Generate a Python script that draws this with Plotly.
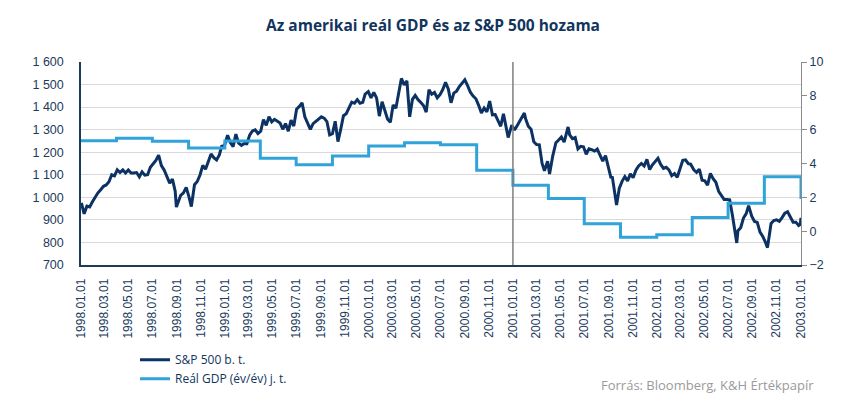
import plotly.graph_objects as go

# ---------------- DATA ----------------
sp_dates = [
    # 1998
    "1998-01-02","1998-01-09","1998-01-16","1998-01-23","1998-01-30","1998-02-06","1998-02-13","1998-02-20",
    "1998-02-27","1998-03-06","1998-03-13","1998-03-20","1998-03-27","1998-04-03","1998-04-10","1998-04-17",
    "1998-04-24","1998-05-01","1998-05-08","1998-05-15","1998-05-22","1998-05-29","1998-06-05","1998-06-12",
    "1998-06-19","1998-06-26","1998-07-03","1998-07-10","1998-07-17","1998-07-24","1998-07-31","1998-08-07",
    "1998-08-14","1998-08-21","1998-08-28","1998-08-31","1998-09-04","1998-09-11","1998-09-18","1998-09-25",
    "1998-10-02","1998-10-08","1998-10-16","1998-10-23","1998-10-30","1998-11-06","1998-11-13","1998-11-20",
    "1998-11-27","1998-12-04","1998-12-11","1998-12-18","1998-12-24","1998-12-31",
    # 1999
    "1999-01-08","1999-01-15","1999-01-22","1999-01-29","1999-02-05","1999-02-12","1999-02-19","1999-02-26",
    "1999-03-05","1999-03-12","1999-03-19","1999-03-26","1999-04-02","1999-04-09","1999-04-16","1999-04-23",
    "1999-04-30","1999-05-07","1999-05-14","1999-05-21","1999-05-28","1999-06-04","1999-06-11","1999-06-18",
    "1999-06-25","1999-07-02","1999-07-09","1999-07-16","1999-07-23","1999-07-30","1999-08-06","1999-08-13",
    "1999-08-20","1999-08-27","1999-09-03","1999-09-10","1999-09-17","1999-09-24","1999-10-01","1999-10-08",
    "1999-10-15","1999-10-22","1999-10-29","1999-11-05","1999-11-12","1999-11-19","1999-11-26","1999-12-03",
    "1999-12-10","1999-12-17","1999-12-23","1999-12-31",
    # 2000
    "2000-01-07","2000-01-14","2000-01-21","2000-01-28","2000-02-04","2000-02-11","2000-02-18","2000-02-25",
    "2000-03-03","2000-03-10","2000-03-17","2000-03-24","2000-03-31","2000-04-07","2000-04-14","2000-04-21",
    "2000-04-28","2000-05-05","2000-05-12","2000-05-19","2000-05-26","2000-06-02","2000-06-09","2000-06-16",
    "2000-06-23","2000-06-30","2000-07-07","2000-07-14","2000-07-21","2000-07-28","2000-08-04","2000-08-11",
    "2000-08-18","2000-08-25","2000-09-01","2000-09-08","2000-09-15","2000-09-22","2000-09-29","2000-10-06",
    "2000-10-13","2000-10-20","2000-10-27","2000-11-03","2000-11-10","2000-11-17","2000-11-24","2000-12-01",
    "2000-12-08","2000-12-15","2000-12-20","2000-12-29",
    # 2001
    "2001-01-05","2001-01-12","2001-01-19","2001-01-30","2001-02-02","2001-02-09","2001-02-16","2001-02-23",
    "2001-03-02","2001-03-09","2001-03-16","2001-03-22","2001-03-30","2001-04-04","2001-04-12","2001-04-20",
    "2001-04-27","2001-05-04","2001-05-11","2001-05-21","2001-05-25","2001-06-01","2001-06-08","2001-06-15",
    "2001-06-22","2001-06-29","2001-07-06","2001-07-13","2001-07-20","2001-07-27","2001-08-03","2001-08-10",
    "2001-08-17","2001-08-24","2001-08-31","2001-09-07","2001-09-10","2001-09-21","2001-09-28","2001-10-05",
    "2001-10-12","2001-10-19","2001-10-26","2001-11-02","2001-11-09","2001-11-16","2001-11-23","2001-11-30",
    "2001-12-07","2001-12-14","2001-12-21","2001-12-28",
    # 2002
    "2002-01-04","2002-01-11","2002-01-18","2002-01-25","2002-02-01","2002-02-08","2002-02-15","2002-02-22",
    "2002-03-01","2002-03-08","2002-03-15","2002-03-22","2002-03-28","2002-04-05","2002-04-12","2002-04-19",
    "2002-04-26","2002-05-03","2002-05-10","2002-05-17","2002-05-24","2002-05-31","2002-06-07","2002-06-14",
    "2002-06-21","2002-06-28","2002-07-05","2002-07-12","2002-07-19","2002-07-23","2002-07-26","2002-08-02",
    "2002-08-09","2002-08-16","2002-08-22","2002-08-30","2002-09-06","2002-09-13","2002-09-20","2002-09-27",
    "2002-10-04","2002-10-09","2002-10-18","2002-10-25","2002-11-01","2002-11-08","2002-11-15","2002-11-22",
    "2002-11-29","2002-12-06","2002-12-13","2002-12-20","2002-12-27","2002-12-31","2003-01-02",
]
sp_values = [
    # 1998
    975, 927, 961, 957, 980, 1003, 1020, 1034,
    1049, 1055, 1069, 1100, 1095, 1122, 1110, 1122,
    1108, 1121, 1108, 1108, 1110, 1091, 1113, 1098,
    1100, 1133, 1147, 1164, 1187, 1141, 1121, 1089,
    1063, 1081, 1027, 957, 973, 1009, 1020, 1044,
    1002, 959, 1056, 1070, 1099, 1141, 1125, 1163,
    1192, 1176, 1166, 1188, 1226, 1229,
    # 1999
    1275, 1243, 1225, 1280, 1240, 1230, 1239, 1238,
    1276, 1294, 1299, 1283, 1293, 1345, 1319, 1357,
    1335, 1346, 1337, 1330, 1302, 1327, 1293, 1342,
    1316, 1391, 1403, 1419, 1357, 1329, 1301, 1327,
    1336, 1348, 1357, 1351, 1336, 1277, 1282, 1337,
    1247, 1301, 1362, 1371, 1397, 1422, 1417, 1433,
    1417, 1421, 1458, 1469,
    # 2000
    1441, 1465, 1441, 1360, 1424, 1387, 1346, 1333,
    1409, 1395, 1464, 1527, 1499, 1516, 1357, 1434,
    1452, 1433, 1421, 1407, 1378, 1477, 1457, 1465,
    1441, 1455, 1478, 1510, 1481, 1419, 1462, 1471,
    1491, 1507, 1521, 1495, 1466, 1449, 1437, 1408,
    1374, 1396, 1379, 1427, 1366, 1367, 1341, 1315,
    1370, 1312, 1265, 1320,
    # 2001
    1298, 1319, 1343, 1374, 1349, 1315, 1302, 1246,
    1234, 1233, 1150, 1118, 1160, 1103, 1183, 1242,
    1254, 1267, 1245, 1312, 1277, 1260, 1265, 1215,
    1226, 1224, 1191, 1215, 1211, 1205, 1214, 1191,
    1161, 1185, 1134, 1085, 1093, 966, 1041, 1071,
    1092, 1073, 1104, 1087, 1120, 1139, 1150, 1139,
    1168, 1123, 1144, 1161,
    # 2002
    1173, 1146, 1128, 1133, 1122, 1096, 1105, 1089,
    1131, 1164, 1166, 1149, 1147, 1122, 1111, 1125,
    1076, 1073, 1054, 1106, 1083, 1067, 1027, 1007,
    990, 990, 989, 921, 847, 798, 852, 865,
    908, 928, 963, 916, 893, 889, 846, 827,
    800, 777, 884, 897, 900, 894, 910, 930,
    936, 912, 890, 890, 875, 880, 909,
]

gdp_dates = [
    "1998-01-01","1998-04-01","1998-07-01","1998-10-01",
    "1999-01-01","1999-04-01","1999-07-01","1999-10-01",
    "2000-01-01","2000-04-01","2000-07-01","2000-10-01",
    "2001-01-01","2001-04-01","2001-07-01","2001-10-01",
    "2002-01-01","2002-04-01","2002-07-01","2002-10-01","2003-01-02",
]
gdp_values = [
    5.35, 5.50, 5.31, 4.92,
    5.33, 4.31, 3.92, 4.44,
    5.03, 5.23, 5.11, 3.60,
    2.71, 1.93, 0.44, -0.36,
    -0.21, 0.81, 1.65, 3.21, 1.90,
]

marker_date = "2001-01-01"
title_text = "Az amerikai reál GDP és az S&P 500 hozama"
source_text = "Forrás: Bloomberg, K&H Értékpapír"
sp_name = "S&P 500 b. t."
gdp_name = "Reál GDP (év/év) j. t."

# ---------------- FIGURE ----------------
NAVY = "#0b3262"
LIGHT = "#2fa3da"
TXT = "#1b3a5c"

fig = go.Figure()
fig.add_trace(go.Scatter(x=sp_dates, y=sp_values, name=sp_name, mode="lines",
                         line=dict(color=NAVY, width=3), yaxis="y"))
fig.add_trace(go.Scatter(x=gdp_dates, y=gdp_values, name=gdp_name, mode="lines",
                         line=dict(color=LIGHT, width=3, shape="hv"), yaxis="y2"))

fig.add_shape(type="line", x0=marker_date, x1=marker_date, xref="x", y0=0, y1=1, yref="paper",
              line=dict(color="#7f7f7f", width=1.5), layer="above")

fig.update_layout(
    width=850, height=397,
    margin=dict(l=73, r=57, t=54, b=128),
    paper_bgcolor="white", plot_bgcolor="white",
    separators=". ",
    showlegend=True,
    title=dict(text=title_text, x=0.5, xanchor="center", y=0.955, yanchor="middle",
               font=dict(family="Open Sans", size=15.5, color="#12355e", weight="bold")),
    legend=dict(x=0.075, y=-0.395, xanchor="left", yanchor="top", orientation="v",
                font=dict(family="Open Sans", size=12, color="#12355e"),
                bgcolor="rgba(0,0,0,0)", tracegroupgap=0, itemwidth=30),
    xaxis=dict(type="date", range=["1998-01-01", "2003-01-02"],
               tick0="1998-01-01", dtick="M2", tickformat="%Y.%m.%d", tickangle=-90,
               showgrid=False, showline=True, linecolor="#1b3a5c", linewidth=1.5,
               ticks="", tickfont=dict(family="Liberation Sans", size=12, color=TXT),
               ticklabelstandoff=7),
    yaxis=dict(range=[700, 1600], dtick=100, tickformat=",d",
               showgrid=True, gridcolor="#d9d9d9", gridwidth=1,
               showline=True, linecolor="#1b3a5c", linewidth=1.5, zeroline=False,
               ticks="outside", ticklen=11, tickcolor="rgba(0,0,0,0)",
               tickfont=dict(family="Liberation Sans", size=12.5, color=TXT),
               ticklabelstandoff=2),
    yaxis2=dict(range=[-2, 10], dtick=2, overlaying="y", side="right",
                showgrid=False, zeroline=False,
                showline=True, linecolor="#8c8c8c", linewidth=1,
                ticks="outside", ticklen=5, tickcolor="#8c8c8c",
                tickfont=dict(family="Liberation Sans", size=12.5, color=TXT),
                ticklabelstandoff=0),
)

fig.add_annotation(text=source_text, xref="paper", yref="paper", x=(808 - 73) / 720, y=-0.59,
                   xanchor="right", yanchor="middle", showarrow=False,
                   font=dict(family="Open Sans", size=13, color="#9a9a9a"))

fig.write_html("out.html")
